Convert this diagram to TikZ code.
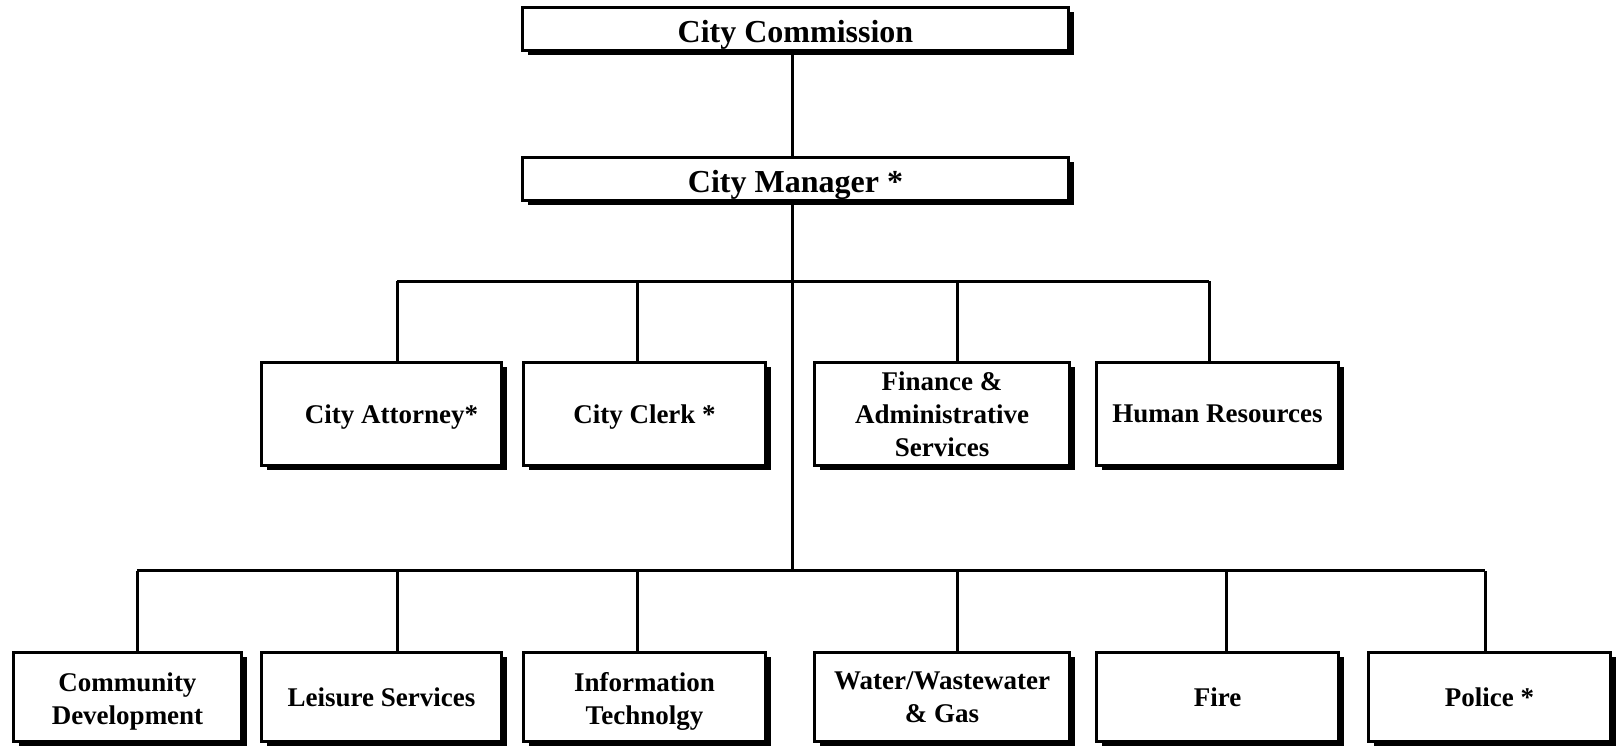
\documentclass[tikz,border=0pt]{standalone}
\usepackage{fontspec}
\setmainfont{Liberation Serif}
\usetikzlibrary{shadows}

% supporto invisibile per abbassare il testo
\newcommand{\lift}{\rule{0pt}{1.05em}}

\begin{document}
\begin{tikzpicture}[
            x=0.5pt, y=-0.5pt,
            line width=1.5pt,
            office/.style={draw, fill=white, line width=1.5pt, inner sep=0pt, outer sep=0pt,
                align=center, font=\fontsize{13.5}{16.5}\selectfont\bfseries,
                drop shadow={shadow xshift=2.6pt, shadow yshift=-2.4pt, fill=black, opacity=1}},
            head/.style={office, minimum width=273pt, minimum height=21.5pt,
                font=\fontsize{16}{19}\selectfont\bfseries},
            upper/.style={office, minimum height=51.5pt},
            lower/.style={office, minimum height=44.5pt},
            flat/.style={text depth=0pt}
        ]
        \useasboundingbox (0,0) rectangle (1617,747);

        % Vertici superiori
        \node[head] (commission) at (795.5, 29) {\lift City Commission};
        \node[head] (manager) at (795.5, 179) {\lift City Manager *};

        % Primo livello
        \node[upper, flat, minimum width=120pt] (attorney) at (381.5, 414) {\hspace*{10pt}City Attorney*};
        \node[upper, flat, minimum width=121pt] (clerk) at (644.5, 414) {City Clerk *};
        \node[upper, minimum width=127.5pt] (finance) at (942, 414) {Finance \&\\ Administrative\\ Services};
        \node[upper, minimum width=121pt] (hr) at (1217.5, 414) {Human Resources};

        % Secondo livello
        \node[lower, minimum width=114pt] (community) at (127.5, 697) {\lift Community\\ Development};
        \node[lower, minimum width=120pt] (leisure) at (381.5, 697) {Leisure Services};
        \node[lower, minimum width=121pt] (it) at (644.5, 697) {\lift Information\\ Technolgy};
        \node[lower, minimum width=127.5pt] (water) at (942, 697) {Water/Wastewater\\ \& Gas};
        \node[lower, minimum width=121pt] (fire) at (1217.5, 697) {Fire};
        \node[lower, minimum width=121pt] (police) at (1489.5, 697) {Police *};

        % Punti di diramazione
        \coordinate (trunk) at (792, 571);
        \coordinate (b1) at (397, 281.5);
        \coordinate (b2) at (637, 281.5);
        \coordinate (b3) at (957, 281.5);
        \coordinate (b4) at (1209, 281.5);
        \coordinate (c1) at (137, 571);
        \coordinate (c2) at (397, 571);
        \coordinate (c3) at (637, 571);
        \coordinate (c4) at (957, 571);
        \coordinate (c5) at (1226, 571);
        \coordinate (c6) at (1485, 571);

        % Collegamenti
        \draw (commission.south -| trunk) -- (manager.north -| trunk);
        \draw (manager.south -| trunk) -- (trunk);
        \draw (b1) -- (b4);
        \draw (b1) -- (b1 |- attorney.north);
        \draw (b2) -- (b2 |- clerk.north);
        \draw (b3) -- (b3 |- finance.north);
        \draw (b4) -- (b4 |- hr.north);
        \draw (c1) -- (c6);
        \draw (c1) -- (c1 |- community.north);
        \draw (c2) -- (c2 |- leisure.north);
        \draw (c3) -- (c3 |- it.north);
        \draw (c4) -- (c4 |- water.north);
        \draw (c5) -- (c5 |- fire.north);
        \draw (c6) -- (c6 |- police.north);

        \end{tikzpicture}
\end{document}
